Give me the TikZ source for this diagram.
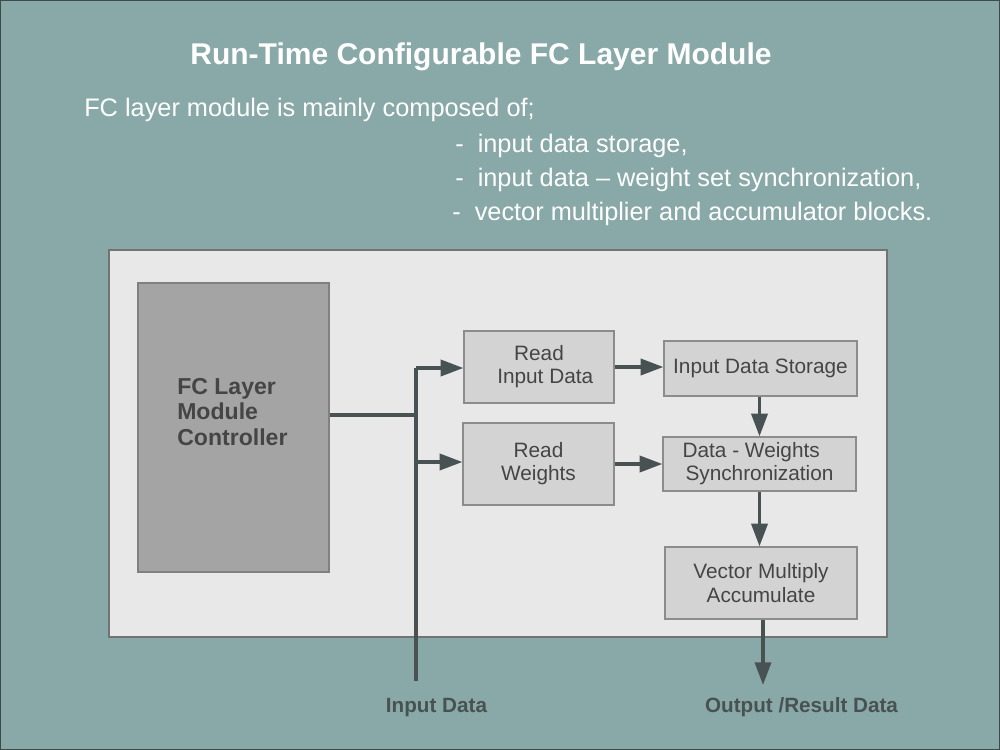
\documentclass[tikz,border=0pt]{standalone}
\usepackage{fontspec}
\setmainfont{Liberation Sans}
\usetikzlibrary{arrows.meta}
\definecolor{bgc}{HTML}{88A9A7}
\definecolor{panelc}{HTML}{E8E8E8}
\definecolor{ctrlc}{HTML}{A4A4A4}
\definecolor{boxc}{HTML}{D3D3D3}
\definecolor{linec}{HTML}{485252}
\definecolor{txtc}{HTML}{454545}
\tikzset{
  blk/.style={draw=black!45, line width=0.9pt, fill=boxc, inner sep=0pt, align=center,
    text=txtc, font=\fontsize{15.6}{17.4}\selectfont},
  conn/.style={draw=linec, line width=2.6pt},
  arr/.style={conn, -{Triangle[length=17pt,width=12pt]}},
  lbl/.style={text=linec, font=\fontsize{15.5}{18}\selectfont\bfseries, inner sep=0pt},
  body/.style={text=white, font=\fontsize{19}{22}\selectfont, inner sep=0pt, anchor=west},
}
\begin{document}
\begin{tikzpicture}[x=0.75pt, y=-0.75pt]
\useasboundingbox (0,0) rectangle (1000,750);
\fill[bgc] (0,0) rectangle (1000,750);
\draw[color=black!55!bgc, line width=1.2pt] (0,0) rectangle (1000,750);

% title and text
\node[text=white, font=\fontsize{22.5}{26}\selectfont\bfseries, inner sep=0pt] (title) at (481,57) {Run-Time Configurable FC Layer Module};
\node[body] (l1) at (84,110) {FC layer module is mainly composed of;};
\node[body] (l2) at (455,146) {-\ \ input data storage,};
\node[body] (l3) at (455,180) {-\ \ input data – weight set synchronization,};
\node[body] (l4) at (452,214) {-\ \ vector multiplier and accumulator blocks.};

% panel
\draw[draw=black!55, line width=1.2pt, fill=panelc] (109,250) rectangle (887,637);

% controller
\node[draw=black!50, line width=0.9pt, fill=ctrlc, minimum width=191*0.75pt, minimum height=289*0.75pt, inner sep=0pt] (ctrl) at (233.5,427.5) {};
\node[anchor=west, align=left, text=txtc, font=\fontsize{17.3}{19}\selectfont\bfseries, inner sep=0pt] (ctrltxt) at (177,412) {FC Layer\\Module\\Controller};

% blocks
\node[blk, minimum width=150*0.75pt, minimum height=72*0.75pt] (rid) at (539,367) {Read\\\hspace*{0.6em}Input Data};
\node[blk, minimum width=193*0.75pt, minimum height=55*0.75pt] (ids) at (760.5,368.5) {Input Data Storage};
\node[blk, minimum width=151*0.75pt, minimum height=82*0.75pt] (rw) at (538.5,464) {Read\\Weights};
\node[blk, minimum width=193*0.75pt, minimum height=54*0.75pt] (dws) at (759.5,464) {Data - Weights\hspace*{0.8em}\\Synchronization};
\node[blk, minimum width=192*0.75pt, minimum height=72*0.75pt] (vma) at (761,583) {Vector Multiply\\Accumulate};

% connectors
\coordinate (j) at (416,415);
\coordinate (ttop) at (416,368);
\coordinate (tmid) at (416,462);
\coordinate (tbot) at (416,681);
\coordinate (out) at (763,685);
\draw[conn] (ctrl.east |- j) -- (j);
\draw[conn] (ttop) -- (tbot);
\draw[arr] (ttop) -- (rid.west |- ttop);
\draw[arr] (tmid) -- (rw.west |- tmid);
\draw[arr] (rid.east) -- (ids.west |- rid.east);
\draw[arr] (rw.east) -- (dws.west |- rw.east);
\draw[arr] (ids.south -| dws.north) -- (dws.north);
\draw[arr] (dws.south) -- (vma.north -| dws.south);
\draw[arr] (vma.south -| out) -- (out);

% labels
\node[lbl] (inlbl) at (436.5,708) {Input Data};
\node[lbl] (outlbl) at (801.5,707) {Output /Result Data};
\end{tikzpicture}
\end{document}
